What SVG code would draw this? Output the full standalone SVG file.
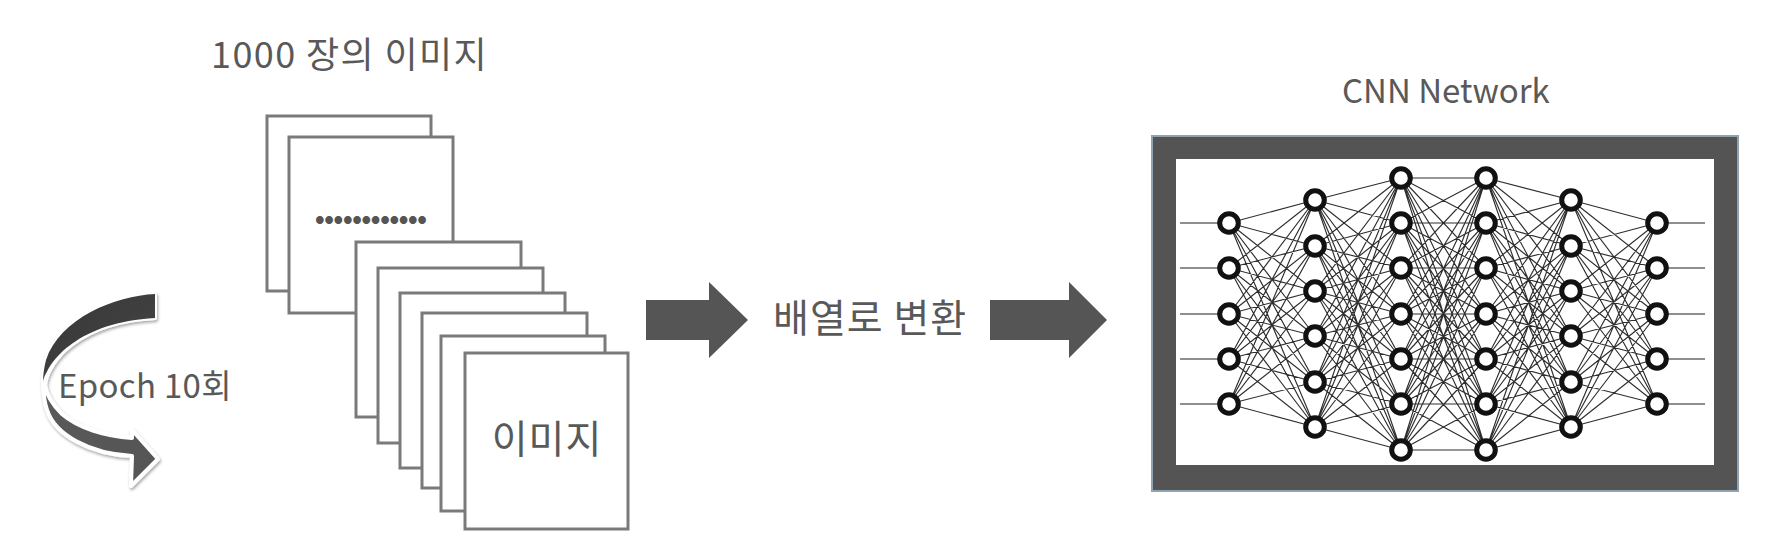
<svg xmlns="http://www.w3.org/2000/svg" width="1766" height="549" viewBox="0 0 1766 549">
<style>
text{font-family:'Noto Sans CJK KR','Noto Sans',sans-serif;fill:#595959}
.pg{fill:#fff;stroke:#7a7a7a;stroke-width:3}
.blk{fill:#555}
.w{stroke:#2e2e2e;stroke-width:1.15;fill:none}
.io{stroke:#6a6a6a;stroke-width:1.6;fill:none}
.n{fill:#fff;stroke:#111;stroke-width:5}
</style>
<defs>
<filter id="sh" x="-20%" y="-20%" width="140%" height="140%">
<feDropShadow dx="1" dy="2" stdDeviation="1.8" flood-color="#000" flood-opacity="0.35"/>
</filter>
<linearGradient id="gu" x1="0" y1="0" x2="1" y2="1">
<stop offset="0" stop-color="#363636"/><stop offset="1" stop-color="#474747"/>
</linearGradient>
<linearGradient id="gl" x1="0" y1="0" x2="1" y2="0">
<stop offset="0" stop-color="#5a5a5a"/><stop offset="1" stop-color="#555"/>
</linearGradient>
</defs>
<rect width="1766" height="549" fill="#fff"/>

<g id="title">
<text x="211" y="68" font-size="36" letter-spacing="1.4">1000 장의 이미지</text>
</g>

<g id="images">
<rect class="pg" x="267" y="116" width="164" height="175"/>
<rect class="pg" x="289" y="137" width="164" height="176"/>
<text x="313" y="223" font-size="42" font-weight="bold" textLength="116" lengthAdjust="spacing" style="fill:#555">............</text>
<rect class="pg" x="356" y="242" width="165" height="175"/>
<rect class="pg" x="378" y="268" width="165" height="175"/>
<rect class="pg" x="400" y="293" width="165" height="175"/>
<rect class="pg" x="422" y="313" width="165" height="175"/>
<rect class="pg" x="441" y="336" width="164" height="175"/>
<rect class="pg" x="465" y="353" width="163" height="176"/>
<text x="547" y="453" font-size="39" letter-spacing="1" text-anchor="middle">이미지</text>
</g>

<g id="epoch">
<path d="M155 294C115 296 60 318 46 360C42 372 42 395 47 410C55 435 90 454 132 456L131 486L158 459L132 430L132 438C105 436 78 428 62 414C52 404 46 393 45 385C48 360 80 322 155 318Z" fill="url(#gl)" stroke="#fff" stroke-width="4" stroke-linejoin="round" filter="url(#sh)"/>
<path d="M155 294C115 296 60 318 46 360C44 368 43 375 43 382C48 360 80 322 155 318Z" fill="url(#gu)"/>
<text x="58" y="398" font-size="33" letter-spacing="0.3">Epoch 10회</text>
</g>

<g id="convert">
<text x="773" y="332" font-size="39" letter-spacing="1">배열로 변환</text>
</g>

<g id="cnn-title">
<text x="1342" y="103" font-size="33">CNN Network</text>
</g>

<g id="cnn">
<rect x="1152" y="136" width="586" height="355" fill="#545454" stroke="#8fa3b0" stroke-width="2"/>
<rect x="1176" y="159" width="538" height="306" fill="#fff"/>
<path class="io" d="M1180 223H1229M1180 268H1229M1180 314H1229M1180 359H1229M1180 404H1229M1657 223H1705M1657 268H1705M1657 314H1705M1657 359H1705M1657 404H1705"/>
<path class="w" d="
M1229 223L1315 200M1229 223L1315 246M1229 223L1315 291M1229 223L1315 336M1229 223L1315 382M1229 223L1315 427
M1229 268L1315 200M1229 268L1315 246M1229 268L1315 291M1229 268L1315 336M1229 268L1315 382M1229 268L1315 427
M1229 314L1315 200M1229 314L1315 246M1229 314L1315 291M1229 314L1315 336M1229 314L1315 382M1229 314L1315 427
M1229 359L1315 200M1229 359L1315 246M1229 359L1315 291M1229 359L1315 336M1229 359L1315 382M1229 359L1315 427
M1229 404L1315 200M1229 404L1315 246M1229 404L1315 291M1229 404L1315 336M1229 404L1315 382M1229 404L1315 427
M1315 200L1401 178M1315 200L1401 223M1315 200L1401 268M1315 200L1401 314M1315 200L1401 359M1315 200L1401 404M1315 200L1401 450
M1315 246L1401 178M1315 246L1401 223M1315 246L1401 268M1315 246L1401 314M1315 246L1401 359M1315 246L1401 404M1315 246L1401 450
M1315 291L1401 178M1315 291L1401 223M1315 291L1401 268M1315 291L1401 314M1315 291L1401 359M1315 291L1401 404M1315 291L1401 450
M1315 336L1401 178M1315 336L1401 223M1315 336L1401 268M1315 336L1401 314M1315 336L1401 359M1315 336L1401 404M1315 336L1401 450
M1315 382L1401 178M1315 382L1401 223M1315 382L1401 268M1315 382L1401 314M1315 382L1401 359M1315 382L1401 404M1315 382L1401 450
M1315 427L1401 178M1315 427L1401 223M1315 427L1401 268M1315 427L1401 314M1315 427L1401 359M1315 427L1401 404M1315 427L1401 450
M1401 178L1486 178M1401 178L1486 223M1401 178L1486 268M1401 178L1486 314M1401 178L1486 359M1401 178L1486 404M1401 178L1486 450
M1401 223L1486 178M1401 223L1486 223M1401 223L1486 268M1401 223L1486 314M1401 223L1486 359M1401 223L1486 404M1401 223L1486 450
M1401 268L1486 178M1401 268L1486 223M1401 268L1486 268M1401 268L1486 314M1401 268L1486 359M1401 268L1486 404M1401 268L1486 450
M1401 314L1486 178M1401 314L1486 223M1401 314L1486 268M1401 314L1486 314M1401 314L1486 359M1401 314L1486 404M1401 314L1486 450
M1401 359L1486 178M1401 359L1486 223M1401 359L1486 268M1401 359L1486 314M1401 359L1486 359M1401 359L1486 404M1401 359L1486 450
M1401 404L1486 178M1401 404L1486 223M1401 404L1486 268M1401 404L1486 314M1401 404L1486 359M1401 404L1486 404M1401 404L1486 450
M1401 450L1486 178M1401 450L1486 223M1401 450L1486 268M1401 450L1486 314M1401 450L1486 359M1401 450L1486 404M1401 450L1486 450
M1486 178L1571 200M1486 178L1571 246M1486 178L1571 291M1486 178L1571 336M1486 178L1571 382M1486 178L1571 427
M1486 223L1571 200M1486 223L1571 246M1486 223L1571 291M1486 223L1571 336M1486 223L1571 382M1486 223L1571 427
M1486 268L1571 200M1486 268L1571 246M1486 268L1571 291M1486 268L1571 336M1486 268L1571 382M1486 268L1571 427
M1486 314L1571 200M1486 314L1571 246M1486 314L1571 291M1486 314L1571 336M1486 314L1571 382M1486 314L1571 427
M1486 359L1571 200M1486 359L1571 246M1486 359L1571 291M1486 359L1571 336M1486 359L1571 382M1486 359L1571 427
M1486 404L1571 200M1486 404L1571 246M1486 404L1571 291M1486 404L1571 336M1486 404L1571 382M1486 404L1571 427
M1486 450L1571 200M1486 450L1571 246M1486 450L1571 291M1486 450L1571 336M1486 450L1571 382M1486 450L1571 427
M1571 200L1657 223M1571 200L1657 268M1571 200L1657 314M1571 200L1657 359M1571 200L1657 404
M1571 246L1657 223M1571 246L1657 268M1571 246L1657 314M1571 246L1657 359M1571 246L1657 404
M1571 291L1657 223M1571 291L1657 268M1571 291L1657 314M1571 291L1657 359M1571 291L1657 404
M1571 336L1657 223M1571 336L1657 268M1571 336L1657 314M1571 336L1657 359M1571 336L1657 404
M1571 382L1657 223M1571 382L1657 268M1571 382L1657 314M1571 382L1657 359M1571 382L1657 404
M1571 427L1657 223M1571 427L1657 268M1571 427L1657 314M1571 427L1657 359M1571 427L1657 404"/>
<g class="n">
<circle cx="1229" cy="223" r="9.3"/><circle cx="1229" cy="268" r="9.3"/><circle cx="1229" cy="314" r="9.3"/><circle cx="1229" cy="359" r="9.3"/><circle cx="1229" cy="404" r="9.3"/>
<circle cx="1315" cy="200" r="9.3"/><circle cx="1315" cy="246" r="9.3"/><circle cx="1315" cy="291" r="9.3"/><circle cx="1315" cy="336" r="9.3"/><circle cx="1315" cy="382" r="9.3"/><circle cx="1315" cy="427" r="9.3"/>
<circle cx="1401" cy="178" r="9.3"/><circle cx="1401" cy="223" r="9.3"/><circle cx="1401" cy="268" r="9.3"/><circle cx="1401" cy="314" r="9.3"/><circle cx="1401" cy="359" r="9.3"/><circle cx="1401" cy="404" r="9.3"/><circle cx="1401" cy="450" r="9.3"/>
<circle cx="1486" cy="178" r="9.3"/><circle cx="1486" cy="223" r="9.3"/><circle cx="1486" cy="268" r="9.3"/><circle cx="1486" cy="314" r="9.3"/><circle cx="1486" cy="359" r="9.3"/><circle cx="1486" cy="404" r="9.3"/><circle cx="1486" cy="450" r="9.3"/>
<circle cx="1571" cy="200" r="9.3"/><circle cx="1571" cy="246" r="9.3"/><circle cx="1571" cy="291" r="9.3"/><circle cx="1571" cy="336" r="9.3"/><circle cx="1571" cy="382" r="9.3"/><circle cx="1571" cy="427" r="9.3"/>
<circle cx="1657" cy="223" r="9.3"/><circle cx="1657" cy="268" r="9.3"/><circle cx="1657" cy="314" r="9.3"/><circle cx="1657" cy="359" r="9.3"/><circle cx="1657" cy="404" r="9.3"/>
</g>
</g>

<g id="connectors">
<polygon class="blk" points="646,300 709,300 709,282 748,320 709,358 709,340 646,340"/>
<polygon class="blk" points="990,300 1069,300 1069,282 1107,320 1069,358 1069,340 990,340"/>
</g>
</svg>
